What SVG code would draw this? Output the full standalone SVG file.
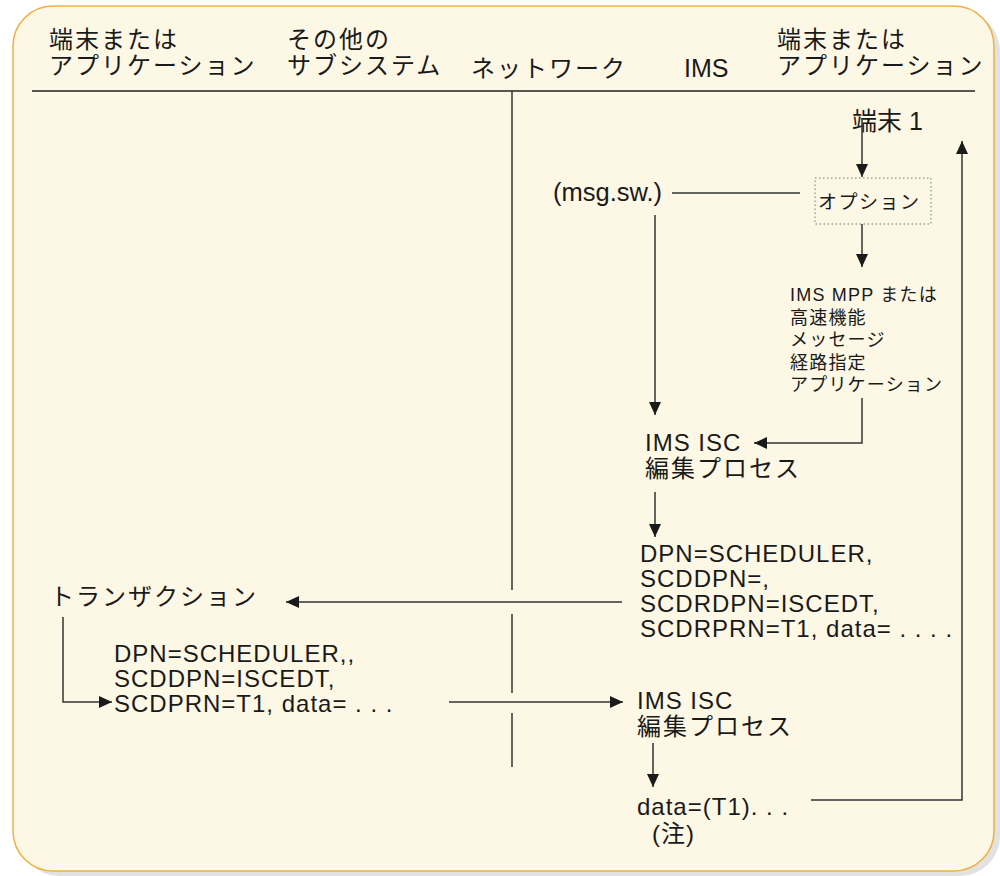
<svg xmlns="http://www.w3.org/2000/svg" width="1000" height="876" viewBox="0 0 1000 876">
<defs>
<marker id="ah" markerWidth="13" markerHeight="12" refX="13" refY="6" orient="auto" markerUnits="userSpaceOnUse">
<path d="M0,0 L13,6 L0,12 Z" fill="#1a1a1a"/>
</marker>
<style>
text{font-family:"Liberation Sans","Noto Sans CJK JP",sans-serif;fill:#1a1a1a}
.j{font-size:24px;letter-spacing:2px}
.t{font-size:24px;letter-spacing:1px}
.s{font-size:18px;letter-spacing:1.2px}
.c{stroke:#333;stroke-width:1.5;fill:none}
.a{stroke:#333;stroke-width:1.5;fill:none;marker-end:url(#ah)}
</style>
</defs>
<rect x="19" y="11" width="981" height="865" rx="40" fill="#e2e2e2"/>
<rect x="13" y="6" width="981" height="865" rx="40" fill="#fdf8e5" stroke="#f0b041" stroke-width="1.5"/>
<g id="headers">
<text class="j" x="49" y="48">端末または</text>
<text class="j" x="49" y="74">アプリケーション</text>
<text class="j" x="287" y="48">その他の</text>
<text class="j" x="287" y="74">サブシステム</text>
<text class="j" x="471" y="77">ネットワーク</text>
<text style="font-size:25px" x="684" y="77">IMS</text>
<text class="j" x="777" y="48">端末または</text>
<text class="j" x="777" y="74">アプリケーション</text>
<line x1="32" y1="91" x2="975" y2="91" stroke="#222" stroke-width="1.5"/>
</g>
<g id="network-line">
<path class="c" d="M512,91 V590 M512,614 V693 M512,713 V767"/>
</g>
<g id="terminal1"><text style="font-size:25px" x="852" y="130">端末 1</text></g>
<g id="option">
<rect x="815" y="178" width="116" height="46" fill="none" stroke="#777" stroke-width="1" stroke-dasharray="1.5,2.5"/>
<text style="font-size:19px;letter-spacing:1.5px" x="818" y="209">オプション</text>
</g>
<g id="msgsw"><text style="font-size:25.5px" x="553" y="201">(msg.sw.)</text></g>
<g id="mpp">
<text class="s" x="790" y="301">IMS MPP または</text>
<text class="s" x="790" y="324">高速機能</text>
<text class="s" x="790" y="346">メッセージ</text>
<text class="s" x="790" y="369">経路指定</text>
<text class="s" x="790" y="391">アプリケーション</text>
</g>
<g id="isc1">
<text class="t" x="645" y="451">IMS ISC</text>
<text class="j" x="645" y="477">編集プロセス</text>
</g>
<g id="dpn1">
<text class="t" x="640" y="562">DPN=SCHEDULER,</text>
<text class="t" x="640" y="587">SCDDPN=,</text>
<text class="t" x="640" y="612">SCDRDPN=ISCEDT,</text>
<text class="t" x="640" y="637">SCDRPRN=T1, data= . . . .</text>
</g>
<g id="transaction"><text class="j" x="50" y="605">トランザクション</text></g>
<g id="dpn2">
<text class="t" x="114" y="662">DPN=SCHEDULER,,</text>
<text class="t" x="114" y="687">SCDDPN=ISCEDT,</text>
<text class="t" x="114" y="712">SCDPRN=T1, data= . . .</text>
</g>
<g id="isc2">
<text class="t" x="637" y="709">IMS ISC</text>
<text class="j" x="637" y="735">編集プロセス</text>
</g>
<g id="data">
<text class="t" x="637" y="815">data=(T1). . .</text>
<text class="t" x="652" y="842">(注)</text>
</g>
<g id="connectors">
<path class="a" d="M862,118 V177"/>
<path class="c" d="M672,193 H800"/>
<path class="a" d="M862,224 V267"/>
<path class="a" d="M655,215 V415"/>
<path class="a" d="M862,398 V443 H754"/>
<path class="a" d="M655,492 V537"/>
<path class="a" d="M622,602 H286"/>
<path class="a" d="M63,617 V702 H112"/>
<path class="a" d="M449,702 H623"/>
<path class="a" d="M653,743 V787"/>
<path class="a" d="M811,800 H962 V141"/>
</g>
</svg>
